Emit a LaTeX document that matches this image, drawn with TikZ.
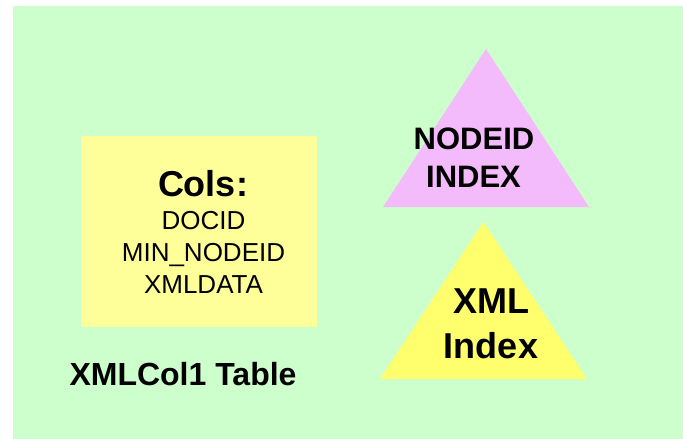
\documentclass[tikz,border=0pt]{standalone}
\usepackage{fontspec}
\setmainfont{Liberation Sans}
\definecolor{paneGreen}{HTML}{CCFFCC}
\definecolor{tableYellow}{HTML}{FFFF99}
\definecolor{indexPink}{HTML}{F4BBFC}
\definecolor{indexYellow}{HTML}{FFFF6E}
\tikzset{
  lbl/.style={anchor=base, inner sep=0pt, text=black},
  title/.style={lbl, font=\bfseries\fontsize{36}{36}\selectfont},
  colname/.style={lbl, font=\fontsize{26}{26}\selectfont},
  caption/.style={lbl, font=\bfseries\fontsize{32}{32}\selectfont},
  idxlabel/.style={lbl, font=\bfseries\fontsize{31}{31}\selectfont},
}
\begin{document}
\begin{tikzpicture}[x=1pt,y=-1pt]
\useasboundingbox (0,0) rectangle (683,439);
% background pane
\fill[paneGreen] (13,6) rectangle (683,439);
% table box
\fill[tableYellow] (81,136) rectangle (317,327);
\node[title]   (cols)  at (203,196) {Cols:};
\node[colname] (c1)    at (203.5,229) {DOCID};
\node[colname] (c2)    at (203.5,261.5) {MIN\_NODEID};
\node[colname] (c3)    at (203.5,293.5) {XMLDATA};
\node[caption] (tbl)   at (183,385) {XMLCol1 Table};
% NODEID index triangle
\fill[indexPink] (486,49) -- (589,207) -- (383,207) -- cycle;
\node[idxlabel] (n1) at (474,149) {NODEID};
\node[idxlabel] (n2) at (473.5,187) {INDEX};
% XML index triangle
\fill[indexYellow] (483.5,222) -- (587,379) -- (380,379) -- cycle;
\node[title] (x1) at (491.5,313) {XML};
\node[title] (x2) at (491,358) {Index};
\end{tikzpicture}
\end{document}
